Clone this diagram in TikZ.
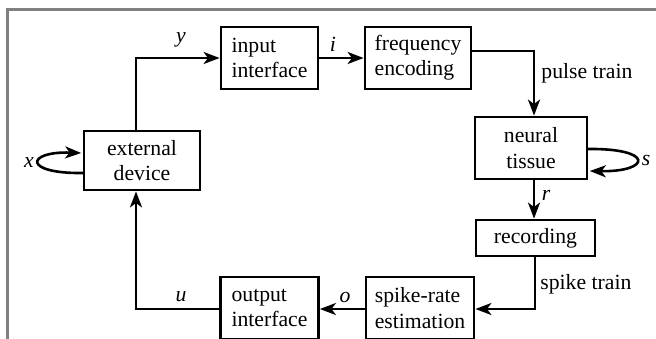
\documentclass[tikz,border=0pt]{standalone}
\usepackage{fontspec}
\setmainfont{Liberation Serif}
\newfontfamily\diagfont{Liberation Serif}
\usetikzlibrary{arrows.meta}
\begin{document}
\begin{tikzpicture}[x=0.5pt,y=-0.5pt,
  every node/.style={font=\diagfont\fontsize{10.85pt}{12.6pt}\selectfont},
  blk/.style={draw, line width=1.4pt, rectangle, inner sep=0pt},
  con/.style={line width=1.3pt, -{Stealth[length=8pt,width=6pt,inset=2.2pt]}},
  lab/.style={inner sep=0pt}]
\useasboundingbox (0,0) rectangle (656,338);
\clip (0,0) rectangle (656,338);
\draw[black!50, line width=1.1pt] (7.5,340) -- (7.5,9.5) -- (658,9.5);
% boxes
\node[blk, minimum width=48.5pt, minimum height=31pt, align=left] (in) at (269.5,58) {input\\interface};
\node[blk, minimum width=53pt, minimum height=31pt, align=left] (fe) at (418,58) {frequency\\encoding};
\node[blk, minimum width=58pt, minimum height=29.5pt, align=center] (ext) at (142,160.5) {external\\device};
\node[blk, minimum width=56pt, minimum height=31pt, align=center] (nt) at (531,148) {neural\\tissue};
\node[blk, minimum width=59.5pt, minimum height=18pt, align=center] (rec) at (535.5,238) {recording};
\node[blk, minimum width=54pt, minimum height=31pt, align=left] (sr) at (420,308) {spike-rate\\estimation};
\node[blk, minimum width=49pt, minimum height=31pt, align=left] (out) at (269.5,308) {output\\interface};
% helper coordinates
\coordinate (vl) at (136,0);
\coordinate (vr) at (534,0);
\coordinate (vr2) at (535,0);
\coordinate (hf) at (0,51);
\coordinate (hb) at (0,309);
% connectors
\draw[con] (ext.north -| vl) |- (in.west);
\draw[con] (in.east) -- (fe.west);
\draw[con] (fe.east |- hf) -| (nt.north -| vr);
\draw[con] (nt.south -| vr) -- (rec.north -| vr);
\draw[con] (rec.south -| vr2) |- (sr.east |- hb);
\draw[con] (sr.west |- hb) -- (out.east |- hb);
\draw[con] (out.west |- hb) -| (ext.south -| vl);
% loops
\coordinate (xa) at (84,173);
\coordinate (xb) at (84,153);
\draw[con] (xa) .. controls (22,174) and (26,151) .. ([xshift=-0.7pt]ext.west |- xb);
\coordinate (sa) at (587,149);
\coordinate (sb) at (587,171);
\draw[con] ([xshift=-0.7pt]nt.east |- sa) .. controls (655,148) and (651,172) .. ([xshift=0.7pt]nt.east |- sb);
% labels
\node[lab] (ly) at (181,40) {\textit{y}};
\node[lab] (li) at (333,44) {\textit{i}};
\node[lab, anchor=west] (lpt) at (541,73) {pulse train};
\node[lab] (lr) at (546,195) {\textit{r}};
\node[lab, anchor=west] (lst) at (540,284) {spike train};
\node[lab] (lo) at (345,297) {\textit{o}};
\node[lab] (lu) at (181,297) {\textit{u}};
\node[lab] (lx) at (29,163) {\textit{x}};
\node[lab] (ls) at (646,160) {\textit{s}};
\end{tikzpicture}
\end{document}
